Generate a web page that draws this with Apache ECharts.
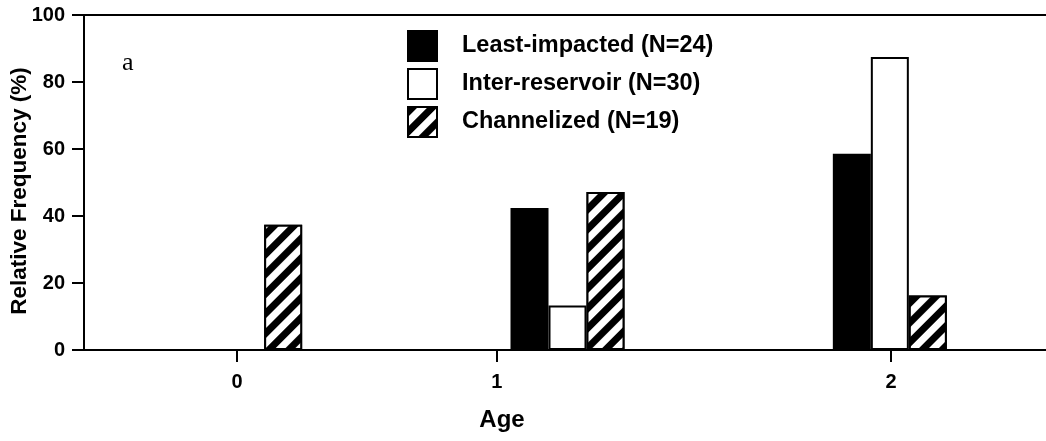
<!DOCTYPE html>
<html>
<head>
<meta charset="utf-8">
<script src="https://cdn.jsdelivr.net/npm/echarts@6/dist/echarts.min.js"></script>
<style>
  html, body { margin: 0; padding: 0; background: #fff; }
  #chart { width: 1046px; height: 441px; }
</style>
</head>
<body>
<div id="chart"></div>
<script>
// Age classes on the x axis
const ageClasses = ['0', '1', '2'];

// Relative frequency (%) of each age class per reach type
const leastImpacted = [0, 42.4, 58.6];
const interReservoir = [0, 13.3, 87.5];
const channelized = [37.4, 47.2, 16.3];

// Series names as shown in the legend
const seriesNames = ['Least-impacted (N=24)', 'Inter-reservoir (N=30)', 'Channelized (N=19)'];

// Y-axis tick labels
const yTicks = [0, 20, 40, 60, 80, 100];

// Where the age tick marks sit along the bottom axis (in category-slot units)
const ageTickSlots = [0.475, 1.281, 2.504];

const SANS = "'Liberation Sans', Arial, sans-serif";

// Diagonal "/" hatching for the channelized bars
const hatch = {
  color: '#000',
  backgroundColor: '#fff',
  symbol: 'rect',
  symbolSize: 1,
  dashArrayX: [1, 0],
  dashArrayY: [7, 7],
  rotation: -Math.PI / 4
};

const chart = echarts.init(document.getElementById('chart'), null, { renderer: 'canvas' });

chart.setOption({
  animation: false,
  backgroundColor: '#fff',
  title: [
    {
      text: 'Age',
      left: 497, top: 403,
      textAlign: 'center',
      textStyle: { fontFamily: SANS, fontWeight: 'bold', fontSize: 24, color: '#000' }
    },
    {
      text: 'a',
      left: 117, top: 45,
      textStyle: { fontFamily: "'Liberation Serif', 'Times New Roman', serif", fontWeight: 'normal', fontSize: 26, color: '#000' }
    }
  ],
  // Vertical y-axis title
  graphic: [
    {
      type: 'text',
      x: 20, y: 191,
      rotation: Math.PI / 2,
      style: {
        text: 'Relative Frequency (%)',
        fontFamily: SANS, fontWeight: 'bold', fontSize: 22.5, fill: '#000',
        align: 'center', verticalAlign: 'middle'
      }
    }
  ],
  legend: {
    orient: 'vertical',
    left: 407, top: 30,
    padding: 0,
    itemWidth: 29, itemHeight: 30,
    itemGap: 6,
    icon: 'rect',
    selectedMode: false,
    data: seriesNames,
    textStyle: {
      fontFamily: SANS, fontWeight: 'bold', fontSize: 23.5, color: '#000',
      padding: [0, 0, 0, 20]
    }
  },
  grid: {
    left: 84, top: 15, right: -5, bottom: 91,
    outerBoundsMode: 'none',
    containLabel: false,
    show: true, borderColor: '#000', borderWidth: 2, backgroundColor: 'transparent'
  },
  xAxis: [
    {
      type: 'category',
      data: ageClasses,
      boundaryGap: true,
      axisLine: { lineStyle: { color: '#000', width: 2 } },
      axisTick: { show: false },
      axisLabel: { show: false },
      splitLine: { show: false }
    },
    {
      type: 'value',
      min: 0, max: 3,
      position: 'bottom',
      axisLine: { show: false },
      axisTick: {
        show: true, length: 12, inside: false,
        customValues: ageTickSlots,
        lineStyle: { color: '#000', width: 2 }
      },
      axisLabel: {
        show: true, margin: 22,
        customValues: ageTickSlots,
        formatter: v => ageClasses[ageTickSlots.indexOf(v)],
        fontFamily: SANS, fontWeight: 'bold', fontSize: 20, color: '#000'
      },
      splitLine: { show: false }
    }
  ],
  yAxis: {
    type: 'value',
    min: 0, max: 100, interval: 20,
    axisLine: { show: true, lineStyle: { color: '#000', width: 2 } },
    axisTick: { show: true, length: 12, lineStyle: { color: '#000', width: 2 } },
    axisLabel: {
      margin: 19,
      formatter: v => (yTicks.includes(v) ? String(v) : ''),
      fontFamily: SANS, fontWeight: 'bold', fontSize: 20, color: '#000'
    },
    splitLine: { show: false }
  },
  series: [
    {
      name: seriesNames[0], type: 'bar', data: leastImpacted,
      barWidth: 38, barGap: '0%',
      itemStyle: { color: '#000', borderColor: '#000', borderWidth: 2 }
    },
    {
      name: seriesNames[1], type: 'bar', data: interReservoir,
      barWidth: 38, barGap: '0%',
      itemStyle: { color: '#fff', borderColor: '#000', borderWidth: 2 }
    },
    {
      name: seriesNames[2], type: 'bar', data: channelized,
      barWidth: 38, barGap: '0%',
      itemStyle: { color: '#fff', borderColor: '#000', borderWidth: 2, decal: hatch }
    }
  ]
});
</script>
</body>
</html>
